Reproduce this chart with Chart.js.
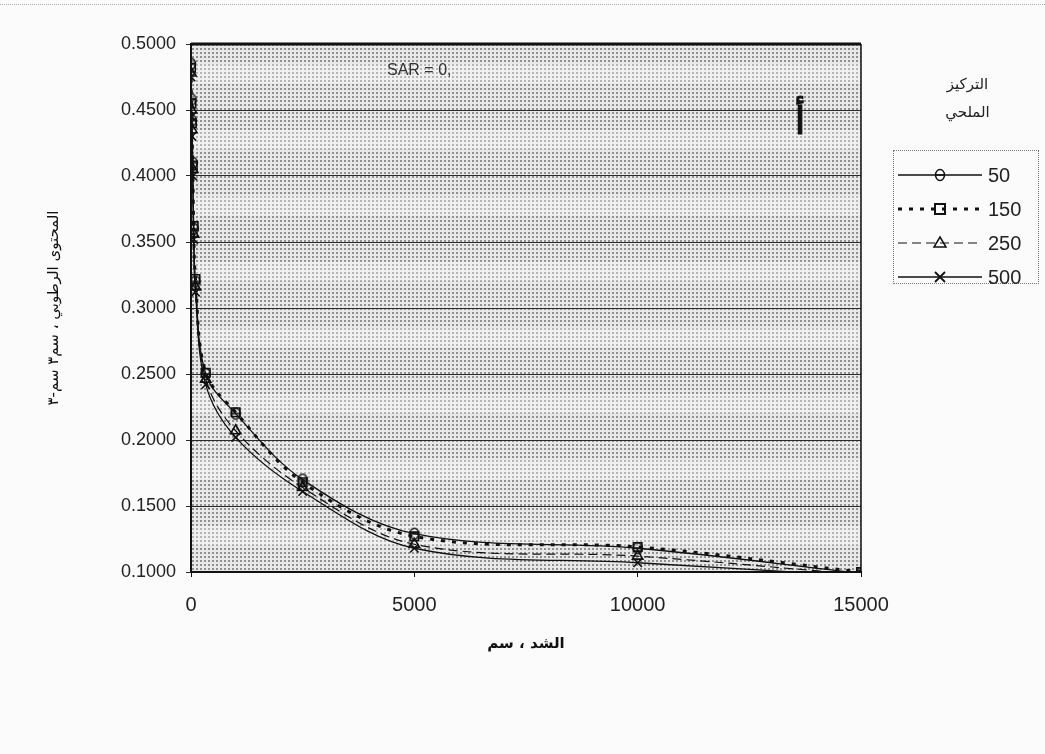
<!DOCTYPE html>
<html lang="ar">
<head>
<meta charset="utf-8">
<script src="https://cdn.jsdelivr.net/npm/chart.js@4"></script>
<style>
    html, body { margin: 0; padding: 0; background: #fbfbfb; }
    #wrap { position: relative; width: 1045px; height: 754px; }
    #scanline { position: absolute; left: 0; top: 4px; width: 1045px; border-top: 1px dotted #b0b0b0; }
    #legendTitle {
        position: absolute; left: 925px; top: 70px; width: 85px;
        font-family: "DejaVu Sans", sans-serif; font-size: 15px; line-height: 28px;
        text-align: center; color: #222; direction: rtl;
    }
    #legend {
        position: absolute; left: 893px; top: 150px; width: 146px; height: 134px;
        border: 1px dotted #777; box-sizing: border-box; padding-top: 7px;
    }
    .row { display: flex; align-items: center; height: 34px; }
    .row svg { width: 92px; height: 20px; }
    .row span { font-family: "Liberation Sans", Arial, sans-serif; font-size: 20px; color: #222; margin-left: 2px; }
</style>
</head>
<body>
<div id="wrap">
    <div id="scanline"></div>
    <canvas id="chart" width="1045" height="754"></canvas>
    <div id="legendTitle">التركيز<br>الملحي</div>
    <div id="legend"></div>
</div>
<script>
// suction (cm) and volumetric moisture content for each salt concentration
const suction = [0, 10, 20, 40, 60, 100, 330, 1000, 2500, 5000, 10000, 15000];
const salt50 = [0.485, 0.458, 0.442, 0.410, 0.360, 0.320, 0.250, 0.220, 0.170, 0.129, 0.118, 0.099];
const salt150 = [0.482, 0.455, 0.440, 0.408, 0.362, 0.322, 0.251, 0.221, 0.168, 0.127, 0.119, 0.100];
const salt250 = [0.478, 0.450, 0.435, 0.405, 0.356, 0.316, 0.246, 0.207, 0.164, 0.121, 0.112, 0.098];
const salt500 = [0.475, 0.445, 0.430, 0.400, 0.352, 0.312, 0.242, 0.202, 0.161, 0.118, 0.107, 0.097];
const seriesLabels = ["50", "150", "250", "500"];
const xTicks = [0, 5000, 10000, 15000];
const yTicks = [0.1, 0.15, 0.2, 0.25, 0.3, 0.35, 0.4, 0.45, 0.5];

const ink = "#111";

function points(values) {
    return values.map(function (v, i) {
        return { x: suction[i], y: v };
    });
}

// circle with a bar through it, like the original marker
const thetaMark = document.createElement("canvas");
thetaMark.width = 14;
thetaMark.height = 14;
(function () {
    const c = thetaMark.getContext("2d");
    c.strokeStyle = ink;
    c.lineWidth = 1.5;
    c.beginPath();
    c.ellipse(7, 7, 4.5, 5.5, 0, 0, Math.PI * 2);
    c.stroke();
    c.beginPath();
    c.moveTo(2, 7);
    c.lineTo(12, 7);
    c.stroke();
})();

// halftone-like tile for the plot background
const tile = document.createElement("canvas");
tile.width = 4;
tile.height = 4;
(function () {
    const c = tile.getContext("2d");
    c.fillStyle = "#e8e8e8";
    c.fillRect(0, 0, 4, 4);
    c.fillStyle = "#909090";
    c.fillRect(0, 0, 2, 2);
})();

const styles = [
    { dash: [], width: 1.3, point: thetaMark, radius: 6 },
    { dash: [4, 7], width: 3, point: "rect", radius: 6 },
    { dash: [9, 5], width: 1.2, point: "triangle", radius: 6 },
    { dash: [], width: 1.3, point: "crossRot", radius: 6 },
];
const allValues = [salt50, salt150, salt250, salt500];

const datasets = allValues.map(function (vals, i) {
    const s = styles[i];
    return {
        label: seriesLabels[i],
        data: points(vals),
        borderColor: ink,
        borderWidth: s.width,
        borderDash: s.dash,
        pointStyle: s.point,
        pointRadius: s.radius,
        pointBorderColor: ink,
        pointBorderWidth: 1.6,
        pointBackgroundColor: "rgba(0,0,0,0)",
        tension: 0.35,
        fill: false,
    };
});

const plotDecor = {
    id: "plotDecor",
    beforeDraw: function (chart) {
        const ctx = chart.ctx;
        const a = chart.chartArea;
        const y = chart.scales.y;
        ctx.save();
        ctx.fillStyle = ctx.createPattern(tile, "repeat");
        ctx.fillRect(a.left, a.top, a.right - a.left, a.bottom - a.top);
        // lighter bands between the grid lines
        ctx.fillStyle = "rgba(255,255,255,0.35)";
        for (let i = 0; i < yTicks.length - 1; i++) {
            const y0 = y.getPixelForValue(yTicks[i + 1]);
            const y1 = y.getPixelForValue(yTicks[i]);
            const h = y1 - y0;
            ctx.fillRect(a.left, y0 + h * 0.3, a.right - a.left, h * 0.3);
        }
        ctx.restore();
    },
    afterDraw: function (chart) {
        const ctx = chart.ctx;
        const a = chart.chartArea;
        ctx.save();
        ctx.strokeStyle = ink;
        ctx.lineWidth = 3;
        ctx.beginPath();
        ctx.moveTo(a.left, a.top);
        ctx.lineTo(a.right, a.top);
        ctx.stroke();
        ctx.lineWidth = 1.5;
        ctx.beginPath();
        ctx.moveTo(a.right, a.top);
        ctx.lineTo(a.right, a.bottom);
        ctx.stroke();

        ctx.fillStyle = "#333";
        ctx.font = "16px 'Liberation Sans'";
        ctx.textAlign = "left";
        ctx.textBaseline = "middle";
        ctx.fillText("SAR = 0,", a.left + 196, a.top + 27);

        ctx.fillStyle = ink;
        ctx.strokeStyle = ink;
        ctx.lineWidth = 1.2;
        ctx.font = "38px 'DejaVu Sans'";
        ctx.textAlign = "center";
        ctx.textBaseline = "alphabetic";
        ctx.fillText("أ", a.left + 609, a.top + 90);
        ctx.strokeText("أ", a.left + 609, a.top + 90);
        ctx.restore();
    },
};

new Chart(document.getElementById("chart"), {
    type: "line",
    data: { datasets: datasets },
    options: {
        responsive: false,
        animation: false,
        layout: { padding: { left: 40, right: 184, top: 44, bottom: 99 } },
        plugins: {
            legend: { display: false },
            tooltip: { enabled: false },
        },
        scales: {
            x: {
                type: "linear",
                min: 0,
                max: 15000,
                afterBuildTicks: function (scale) {
                    scale.ticks = xTicks.map(function (v) { return { value: v }; });
                },
                afterFit: function (scale) { scale.height = 83; },
                ticks: {
                    color: "#222",
                    font: { family: "Liberation Sans", size: 20 },
                    padding: 16,
                    maxRotation: 0,
                    callback: function (v) { return String(v); },
                },
                grid: { drawOnChartArea: false, tickLength: 5, color: ink },
                border: { color: ink, width: 2 },
                title: {
                    display: true,
                    text: "الشد ، سم",
                    color: "#111",
                    font: { family: "DejaVu Sans", size: 15, weight: "bold" },
                    padding: { top: 0, bottom: 2 },
                },
            },
            y: {
                min: 0.1,
                max: 0.5,
                afterBuildTicks: function (scale) {
                    scale.ticks = yTicks.map(function (v) { return { value: v }; });
                },
                afterFit: function (scale) { scale.width = 151; },
                ticks: {
                    color: "#222",
                    font: { family: "Liberation Sans", size: 18 },
                    padding: 10,
                    callback: function (v) { return Number(v).toFixed(4); },
                },
                grid: { color: "#2a2a2a", lineWidth: 1, tickLength: 5 },
                border: { color: ink, width: 2 },
                title: {
                    display: true,
                    text: "المحتوى الرطوبي ، سم٣ سم-٣",
                    color: "#111",
                    font: { family: "DejaVu Sans", size: 15 },
                    padding: { top: 5, bottom: 0 },
                },
            },
        },
    },
    plugins: [plotDecor],
});

// legend with line samples and markers
const legendBox = document.getElementById("legend");
const svgMarks = [
    '<ellipse cx="46" cy="10" rx="4.5" ry="5.5" fill="none" stroke="#111" stroke-width="1.5"/><line x1="41" y1="10" x2="51" y2="10" stroke="#111" stroke-width="1.5"/>',
    '<rect x="41" y="5" width="10" height="10" fill="none" stroke="#111" stroke-width="2"/>',
    '<path d="M46 4 L52 14 L40 14 Z" fill="none" stroke="#111" stroke-width="1.5"/>',
    '<path d="M41 5 L51 15 M51 5 L41 15" stroke="#111" stroke-width="1.8"/>',
];
seriesLabels.forEach(function (lab, i) {
    const s = styles[i];
    const dash = s.dash.length ? ' stroke-dasharray="' + s.dash.join(" ") + '"' : "";
    const row = document.createElement("div");
    row.className = "row";
    row.innerHTML =
        '<svg viewBox="0 0 92 20"><line x1="4" y1="10" x2="88" y2="10" stroke="#111" stroke-width="' +
        s.width + '"' + dash + "/>" + svgMarks[i] + "</svg><span>" + lab + "</span>";
    legendBox.appendChild(row);
});
</script>
</body>
</html>
